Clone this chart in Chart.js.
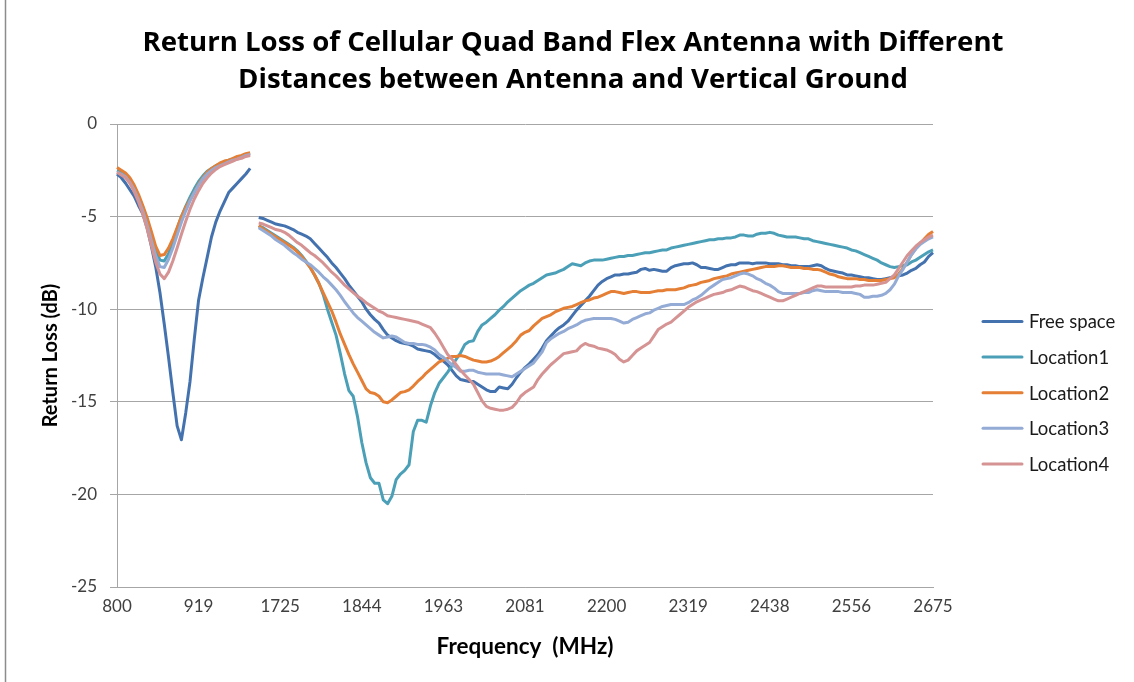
<!DOCTYPE html>
<html>
<head>
<meta charset="utf-8">
<script src="https://cdn.jsdelivr.net/npm/chart.js@4.4.0/dist/chart.umd.min.js"></script>
<style>
  body { margin: 0; background: #fff; }
  #wrap { width: 1134px; height: 682px; position: relative; }
</style>
</head>
<body>
<div id="wrap"><canvas id="rlChart"></canvas></div>
<script>
// sweep frequencies (MHz); the blank entry is the break between the two bands
const frequencies = [
    800, 806.25, 812.5, 818.75, 825, 831.25, 837.5, 843.75,
    850, 856.25, 862.5, 868.75, 875, 881.25, 887.5, 893.75,
    900, 906.25, 912.5, 918.75, 925, 931.25, 937.5, 943.75,
    950, 956.25, 962.5, 968.75, 975, 981.25, 987.5, 993.75,
    '',
    1693.75,
    1700, 1706.25, 1712.5, 1718.75, 1725, 1731.25, 1737.5, 1743.75,
    1750, 1756.25, 1762.5, 1768.75, 1775, 1781.25, 1787.5, 1793.75,
    1800, 1806.25, 1812.5, 1818.75, 1825, 1831.25, 1837.5, 1843.75,
    1850, 1856.25, 1862.5, 1868.75, 1875, 1881.25, 1887.5, 1893.75,
    1900, 1906.25, 1912.5, 1918.75, 1925, 1931.25, 1937.5, 1943.75,
    1950, 1956.25, 1962.5, 1968.75, 1975, 1981.25, 1987.5, 1993.75,
    2000, 2006.25, 2012.5, 2018.75, 2025, 2031.25, 2037.5, 2043.75,
    2050, 2056.25, 2062.5, 2068.75, 2075, 2081.25, 2087.5, 2093.75,
    2100, 2106.25, 2112.5, 2118.75, 2125, 2131.25, 2137.5, 2143.75,
    2150, 2156.25, 2162.5, 2168.75, 2175, 2181.25, 2187.5, 2193.75,
    2200, 2206.25, 2212.5, 2218.75, 2225, 2231.25, 2237.5, 2243.75,
    2250, 2256.25, 2262.5, 2268.75, 2275, 2281.25, 2287.5, 2293.75,
    2300, 2306.25, 2312.5, 2318.75, 2325, 2331.25, 2337.5, 2343.75,
    2350, 2356.25, 2362.5, 2368.75, 2375, 2381.25, 2387.5, 2393.75,
    2400, 2406.25, 2412.5, 2418.75, 2425, 2431.25, 2437.5, 2443.75,
    2450, 2456.25, 2462.5, 2468.75, 2475, 2481.25, 2487.5, 2493.75,
    2500, 2506.25, 2512.5, 2518.75, 2525, 2531.25, 2537.5, 2543.75,
    2550, 2556.25, 2562.5, 2568.75, 2575, 2581.25, 2587.5, 2593.75,
    2600, 2606.25, 2612.5, 2618.75, 2625, 2631.25, 2637.5, 2643.75,
    2650, 2656.25, 2662.5, 2668.75, 2675
];

// labels shown on the x axis, one every 19 sweep points
const tickLabels = ['800', '919', '1725', '1844', '1963', '2081', '2200', '2319', '2438', '2556', '2675'];
const tickEvery = 19;

const seriesNames = ['Free space', 'Location1', 'Location2', 'Location3', 'Location4'];
const seriesColors = ['#4472AE', '#4BA0B8', '#E47F35', '#94ACD5', '#D59493'];

// return loss in dB
const freeSpace = [
    -2.7, -2.9, -3.2, -3.55, -3.9, -4.4, -4.85, -5.6, -6.6, -7.7,
    -9.1, -10.8, -12.6, -14.5, -16.3, -17.05, -15.6, -13.9, -11.6, -9.5,
    -8.3, -7.2, -6.1, -5.3, -4.7, -4.2, -3.7, -3.45, -3.2, -2.95,
    -2.7, -2.4,
    null,
    -5.05, -5.1, -5.2, -5.3, -5.4, -5.45, -5.5, -5.6, -5.7, -5.85,
    -5.95, -6.05, -6.2, -6.45, -6.7, -6.95, -7.2, -7.5, -7.75, -8.05,
    -8.35, -8.7, -9.0, -9.3, -9.6, -10.0, -10.3, -10.55, -10.75, -11.1,
    -11.4, -11.55, -11.7, -11.8, -11.85, -11.9, -12.0, -12.15, -12.2, -12.25,
    -12.3, -12.45, -12.65, -12.8, -13.0, -13.3, -13.6, -13.8, -13.85, -13.9,
    -13.9, -14.05, -14.2, -14.35, -14.45, -14.45, -14.2, -14.25, -14.3, -14.05,
    -13.7, -13.4, -13.15, -12.95, -12.7, -12.45, -12.1, -11.7, -11.45, -11.2,
    -11.0, -10.85, -10.65, -10.35, -10.05, -9.8, -9.55, -9.3, -9.0, -8.7,
    -8.5, -8.35, -8.25, -8.15, -8.15, -8.1, -8.1, -8.05, -8.0, -7.85,
    -7.8, -7.9, -7.85, -7.9, -7.95, -7.95, -7.75, -7.65, -7.6, -7.55,
    -7.55, -7.5, -7.6, -7.75, -7.75, -7.8, -7.85, -7.85, -7.75, -7.65,
    -7.6, -7.6, -7.5, -7.5, -7.5, -7.55, -7.5, -7.5, -7.5, -7.55,
    -7.55, -7.55, -7.6, -7.6, -7.65, -7.65, -7.7, -7.7, -7.7, -7.65,
    -7.6, -7.65, -7.8, -7.9, -7.95, -8.0, -8.05, -8.15, -8.15, -8.2,
    -8.25, -8.3, -8.3, -8.35, -8.4, -8.4, -8.35, -8.3, -8.25, -8.2,
    -8.15, -8.05, -7.9, -7.8, -7.6, -7.45, -7.15, -6.95
];

const location1 = [
    -2.5, -2.6, -2.75, -3.0, -3.4, -3.9, -4.5, -5.2, -6.0, -6.8,
    -7.35, -7.4, -7.0, -6.35, -5.65, -5.0, -4.45, -3.95, -3.5, -3.1,
    -2.8, -2.55, -2.4, -2.25, -2.15, -2.05, -1.95, -1.9, -1.8, -1.75,
    -1.65, -1.6,
    null,
    -5.5, -5.6, -5.75, -5.9, -6.05, -6.2, -6.35, -6.5, -6.65, -6.85,
    -7.1, -7.4, -7.75, -8.15, -8.6, -9.2, -10.0, -10.7, -11.4, -12.4,
    -13.5, -14.4, -14.7, -15.8, -17.2, -18.3, -19.1, -19.4, -19.4, -20.3,
    -20.5, -20.1, -19.2, -18.9, -18.7, -18.4, -16.6, -16.0, -16.0, -16.1,
    -15.2, -14.5, -14.0, -13.7, -13.4, -13.05, -12.7, -12.35, -11.9, -11.75,
    -11.7, -11.2, -10.85, -10.7, -10.5, -10.3, -10.05, -9.85, -9.6, -9.4,
    -9.2, -9.0, -8.85, -8.7, -8.6, -8.45, -8.3, -8.15, -8.1, -8.05,
    -7.95, -7.85, -7.7, -7.55, -7.6, -7.65, -7.5, -7.4, -7.35, -7.35,
    -7.35, -7.3, -7.25, -7.2, -7.15, -7.15, -7.1, -7.1, -7.05, -7.0,
    -6.95, -6.95, -6.9, -6.85, -6.8, -6.8, -6.7, -6.65, -6.6, -6.55,
    -6.5, -6.45, -6.4, -6.35, -6.3, -6.25, -6.25, -6.2, -6.2, -6.15,
    -6.15, -6.1, -6.0, -6.0, -6.05, -6.05, -5.95, -5.9, -5.9, -5.85,
    -5.9, -6.0, -6.05, -6.1, -6.1, -6.1, -6.15, -6.2, -6.2, -6.3,
    -6.35, -6.4, -6.45, -6.5, -6.55, -6.6, -6.65, -6.7, -6.8, -6.85,
    -6.95, -7.05, -7.15, -7.25, -7.35, -7.5, -7.6, -7.7, -7.75, -7.7,
    -7.65, -7.6, -7.45, -7.35, -7.2, -7.05, -6.9, -6.8
];

const location2 = [
    -2.35, -2.5, -2.65, -2.9, -3.3, -3.8, -4.4, -5.05, -5.8, -6.6,
    -7.1, -7.05, -6.7, -6.2, -5.6, -5.0, -4.5, -4.1, -3.7, -3.25,
    -2.9, -2.6, -2.4, -2.25, -2.1, -2.0, -1.95, -1.85, -1.75, -1.7,
    -1.6, -1.55,
    null,
    -5.5, -5.65, -5.8, -5.95, -6.1, -6.25, -6.4, -6.55, -6.7, -6.9,
    -7.15, -7.45, -7.75, -8.15, -8.6, -9.1, -9.6, -10.1, -10.7, -11.35,
    -11.9, -12.45, -12.95, -13.4, -13.85, -14.3, -14.5, -14.55, -14.7, -15.0,
    -15.05, -14.9, -14.7, -14.5, -14.45, -14.35, -14.15, -13.9, -13.7, -13.45,
    -13.25, -13.05, -12.85, -12.75, -12.65, -12.55, -12.55, -12.5, -12.55, -12.65,
    -12.75, -12.8, -12.85, -12.85, -12.8, -12.7, -12.55, -12.35, -12.15, -11.95,
    -11.7, -11.4, -11.25, -11.15, -10.9, -10.7, -10.5, -10.4, -10.3, -10.15,
    -10.05, -9.95, -9.9, -9.85, -9.75, -9.65, -9.55, -9.5, -9.4, -9.35,
    -9.25, -9.15, -9.05, -9.05, -9.1, -9.15, -9.1, -9.05, -9.05, -9.1,
    -9.1, -9.1, -9.05, -9.0, -9.0, -8.95, -8.95, -8.95, -8.9, -8.85,
    -8.75, -8.7, -8.65, -8.55, -8.5, -8.45, -8.35, -8.3, -8.25, -8.2,
    -8.1, -8.05, -8.0, -7.95, -7.9, -7.85, -7.8, -7.75, -7.7, -7.7,
    -7.7, -7.65, -7.65, -7.7, -7.75, -7.75, -7.75, -7.8, -7.8, -7.85,
    -7.85, -7.9, -8.0, -8.1, -8.15, -8.25, -8.3, -8.35, -8.35, -8.35,
    -8.4, -8.4, -8.45, -8.45, -8.45, -8.45, -8.4, -8.35, -8.3, -8.1,
    -7.8, -7.45, -7.05, -6.7, -6.45, -6.2, -5.95, -5.8
];

const location3 = [
    -2.6, -2.7, -2.85, -3.15, -3.55, -4.1, -4.7, -5.45, -6.3, -7.1,
    -7.7, -7.75, -7.3, -6.7, -6.0, -5.3, -4.7, -4.15, -3.7, -3.3,
    -2.95, -2.7, -2.5, -2.35, -2.25, -2.15, -2.05, -1.95, -1.9, -1.8,
    -1.7, -1.65,
    null,
    -5.6, -5.75, -5.9, -6.05, -6.25, -6.4, -6.55, -6.75, -6.95, -7.1,
    -7.3, -7.45, -7.6, -7.8, -8.0, -8.25, -8.45, -8.7, -8.95, -9.25,
    -9.6, -9.9, -10.2, -10.45, -10.65, -10.85, -11.05, -11.25, -11.4, -11.55,
    -11.5, -11.45, -11.5, -11.65, -11.8, -11.85, -11.85, -11.9, -11.9, -11.95,
    -12.05, -12.2, -12.45, -12.6, -12.8, -13.0, -13.15, -13.35, -13.35, -13.3,
    -13.3, -13.4, -13.45, -13.5, -13.5, -13.5, -13.5, -13.55, -13.6, -13.65,
    -13.5, -13.35, -13.2, -13.05, -12.9, -12.6, -12.3, -11.8, -11.6, -11.45,
    -11.3, -11.2, -11.05, -10.95, -10.85, -10.7, -10.6, -10.55, -10.5, -10.5,
    -10.5, -10.5, -10.5, -10.55, -10.65, -10.75, -10.7, -10.55, -10.45, -10.35,
    -10.25, -10.2, -10.05, -9.95, -9.85, -9.8, -9.75, -9.75, -9.75, -9.75,
    -9.65, -9.5, -9.4, -9.25, -9.05, -8.85, -8.7, -8.55, -8.4, -8.35,
    -8.3, -8.2, -8.1, -8.05, -8.1, -8.2, -8.35, -8.45, -8.6, -8.7,
    -8.85, -9.05, -9.15, -9.15, -9.15, -9.15, -9.15, -9.1, -9.1, -9.0,
    -8.95, -9.0, -9.05, -9.05, -9.05, -9.05, -9.1, -9.1, -9.1, -9.15,
    -9.2, -9.35, -9.35, -9.3, -9.3, -9.25, -9.15, -8.95, -8.65, -8.2,
    -7.85, -7.45, -7.05, -6.75, -6.5, -6.35, -6.2, -6.1
];

const location4 = [
    -2.6, -2.75, -2.9, -3.2, -3.65, -4.2, -4.85, -5.65, -6.55, -7.45,
    -8.1, -8.35, -8.0, -7.4, -6.7, -5.95, -5.25, -4.6, -4.05, -3.6,
    -3.2, -2.9, -2.65, -2.45, -2.3, -2.2, -2.1, -2.0, -1.9, -1.85,
    -1.75, -1.7,
    null,
    -5.35, -5.4, -5.5, -5.6, -5.7, -5.75, -5.85, -6.0, -6.2, -6.4,
    -6.55, -6.75, -6.95, -7.1, -7.3, -7.5, -7.75, -8.0, -8.2, -8.45,
    -8.7, -8.9, -9.1, -9.3, -9.45, -9.65, -9.8, -9.95, -10.1, -10.2,
    -10.35, -10.4, -10.45, -10.5, -10.55, -10.6, -10.65, -10.7, -10.8, -10.9,
    -11.0, -11.3, -11.65, -12.05, -12.45, -12.7, -13.0, -13.3, -13.55, -13.8,
    -14.05, -14.5, -14.95, -15.25, -15.35, -15.4, -15.45, -15.45, -15.4, -15.3,
    -15.05, -14.7, -14.5, -14.35, -14.2, -13.8, -13.5, -13.25, -13.0, -12.8,
    -12.6, -12.4, -12.35, -12.3, -12.25, -12.0, -11.85, -11.95, -12.0, -12.1,
    -12.15, -12.2, -12.3, -12.45, -12.7, -12.85, -12.75, -12.5, -12.25, -12.1,
    -11.95, -11.8, -11.45, -11.1, -10.95, -10.8, -10.7, -10.5, -10.3, -10.1,
    -9.9, -9.75, -9.6, -9.5, -9.4, -9.3, -9.2, -9.15, -9.1, -9.0,
    -8.95, -8.85, -8.75, -8.8, -8.9, -9.0, -9.05, -9.15, -9.25, -9.35,
    -9.45, -9.55, -9.55, -9.45, -9.35, -9.25, -9.15, -9.05, -8.95, -8.85,
    -8.75, -8.75, -8.8, -8.8, -8.8, -8.8, -8.8, -8.8, -8.8, -8.75,
    -8.75, -8.7, -8.7, -8.7, -8.65, -8.6, -8.55, -8.35, -8.15, -7.8,
    -7.45, -7.1, -6.85, -6.6, -6.4, -6.25, -6.1, -6.0
];

const seriesValues = [freeSpace, location1, location2, location3, location4];

Chart.defaults.font.family = 'Lato, "Noto Sans", sans-serif';
Chart.defaults.color = '#404040';

// legend drawn by hand on the right, like the spreadsheet one
const sideLegend = {
    id: 'sideLegend',
    afterDraw(chart) {
        const ctx = chart.ctx;
        ctx.save();
        ctx.font = '18.5px Lato, "Noto Sans", sans-serif';
        ctx.textBaseline = 'middle';
        chart.data.datasets.forEach((ds, i) => {
            const y = 321.5 + i * 35.6;
            ctx.strokeStyle = ds.borderColor;
            ctx.lineWidth = 3;
            ctx.lineCap = 'round';
            ctx.beginPath();
            ctx.moveTo(983, y);
            ctx.lineTo(1022, y);
            ctx.stroke();
            ctx.fillStyle = '#1a1a1a';
            ctx.fillText(ds.label, 1029, y + 1);
        });
        // left edge of the chart frame
        ctx.strokeStyle = '#8c8c8c';
        ctx.lineWidth = 1.5;
        ctx.beginPath();
        ctx.moveTo(5.5, 0);
        ctx.lineTo(5.5, chart.height);
        ctx.stroke();
        ctx.restore();
    }
};

const rlChart = new Chart(document.getElementById('rlChart'), {
    type: 'line',
    data: {
        labels: frequencies,
        datasets: seriesNames.map((name, i) => ({
            label: name,
            data: seriesValues[i],
            borderColor: seriesColors[i],
            backgroundColor: seriesColors[i],
            borderWidth: 3,
            pointRadius: 0,
            tension: 0,
            borderJoinStyle: 'round',
            spanGaps: false,
            order: seriesNames.length - i
        }))
    },
    options: {
        responsive: true,
        maintainAspectRatio: false,
        animation: false,
        layout: { padding: { left: 12, right: 0, top: 0, bottom: 0 } },
        plugins: {
            legend: { display: false },
            tooltip: { enabled: false },
            title: {
                display: true,
                text: ['Return Loss of Cellular Quad Band Flex Antenna with Different',
                       'Distances between Antenna and Vertical Ground'],
                color: '#000',
                font: { family: '"Open Sans", "Noto Sans", sans-serif', size: 27.6, weight: 'bold', lineHeight: 37 / 27.6 },
                padding: { top: 25, bottom: 25 }
            }
        },
        scales: {
            x: {
                type: 'category',
                offset: false,
                grid: { display: false, drawTicks: false },
                border: { display: true, color: '#a6a6a6' },
                ticks: {
                    autoSkip: false,
                    maxRotation: 0,
                    minRotation: 0,
                    padding: 9,
                    font: { size: 17 },
                    callback: (v, i) => (i % tickEvery === 0 ? tickLabels[i / tickEvery] : null)
                },
                title: {
                    display: true,
                    text: 'Frequency  (MHz)',
                    color: '#000',
                    font: { size: 22.5, weight: 'bold' },
                    padding: { top: 0, bottom: 22 }
                },
                afterFit: (s) => { s.height = 95; }
            },
            y: {
                min: -25,
                max: 0,
                ticks: { stepSize: 5, padding: 13, font: { size: 17 } },
                grid: { color: '#a6a6a6', tickLength: 7 },
                border: { color: '#a6a6a6' },
                title: {
                    display: true,
                    text: 'Return Loss (dB)',
                    color: '#000',
                    font: { size: 20, weight: 'bold' },
                    padding: { top: 27, bottom: 0 }
                },
                afterFit: (s) => { s.width = 105; }
            },
            // empty band on the right that holds the legend
            legendSpace: {
                type: 'linear',
                position: 'right',
                display: true,
                grid: { display: false, drawTicks: false },
                border: { display: false },
                ticks: { display: false },
                afterFit: (s) => { s.width = 201; }
            }
        }
    },
    plugins: [sideLegend]
});
</script>
</body>
</html>
